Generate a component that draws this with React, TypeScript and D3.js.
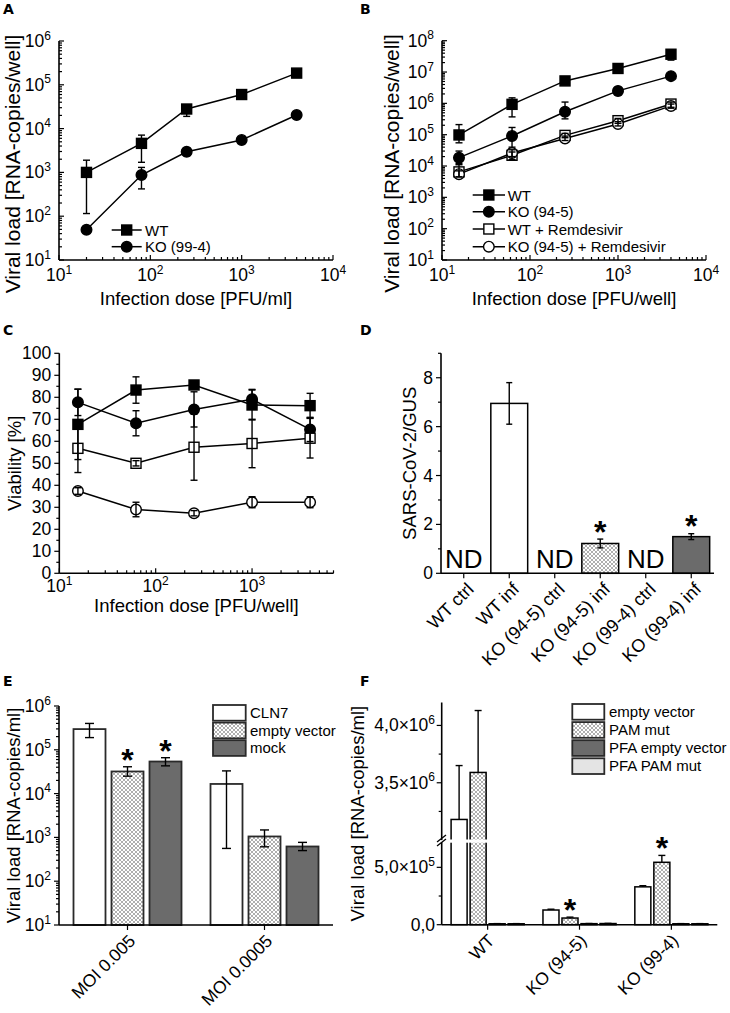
import * as d3 from "d3";

const FONT = "'Liberation Sans', Arial, Helvetica, sans-serif";
const TICK_FS = 17.5;
const SUP_FS = 12;
const TITLE_FS = 18.5;
const LEG_FS = 15;

// panel A – viral load vs infection dose (PFU/ml)
const doseA = [20, 80, 250, 1000, 4000];
const wtA = [1000, 4600, 28000, 60000, 185000];
const wtALo = [115, 1700, 19000, 52000, 165000];
const wtAHi = [1900, 7100, 34000, 66000, 205000];
const koA = [49, 870, 2960, 5500, 20400];
const koALo = [45, 420, 2400, 4800, 18500];
const koAHi = [54, 1300, 3600, 6200, 22500];

// panel B – viral load vs infection dose (PFU/well)
const doseB = [15.6, 62.5, 250, 1000, 4000];
const wtB = [98000, 930000, 5.2e6, 1.3e7, 3.7e7];
const wtBLo = [55000, 370000, 4.4e6, 1.1e7, 2.4e7];
const wtBHi = [210000, 1.5e6, 6.0e6, 1.5e7, 5.0e7];
const koB = [18500, 91000, 540000, 2.5e6, 7.4e6];
const koBLo = [12000, 40000, 320000, 1.8e6, 6.4e6];
const koBHi = [30000, 170000, 1.1e6, 3.3e6, 8.6e6];
const wtRemB = [6500, 22000, 95000, 280000, 950000];
const wtRemBLo = [4500, 16000, 80000, 230000, 750000];
const wtRemBHi = [11000, 28000, 110000, 330000, 1.1e6];
const koRemB = [5500, 26000, 76000, 220000, 830000];
const koRemBLo = [4500, 20000, 65000, 190000, 700000];
const koRemBHi = [7000, 33000, 90000, 260000, 950000];

// panel C – viability (%)
const doseC = [15.6, 62.5, 250, 1000, 4000];
const wtC = [67.7, 83.3, 85.6, 76.5, 76.2];
const wtCErr = [16, 6, 1.5, 6.8, 5.6];
const koC = [77.7, 68.2, 74.5, 79.1, 65.4];
const koCErr = [6, 5.7, 8, 4.5, 5.5];
const wtRemC = [56.8, 50, 57.3, 59, 61.4];
const wtRemCErr = [11, 1.2, 15, 11, 9];
const koRemC = [37.4, 29, 27.3, 32.3, 32.3];
const koRemCErr = [1.5, 3.3, 1.2, 2.5, 2.5];

// panel D – SARS-CoV-2/GUS
const dCats = ["WT ctrl", "WT inf", "KO (94-5) ctrl", "KO (94-5) inf", "KO (99-4) ctrl", "KO (99-4) inf"];
const dVals = [null, 6.95, null, 1.22, null, 1.5];
const dErr = [0, 0.85, 0, 0.18, 0, 0.12];
const dStar = [false, false, false, true, false, true];

// panel E – CLN7 rescue
const eGroups = ["MOI 0.005", "MOI 0.0005"];
const eSeries = ["CLN7", "empty vector", "mock"];
const eCLN7 = [297000, 16600];
const eCLN7Lo = [190000, 560];
const eCLN7Hi = [400000, 33000];
const eEmpty = [32000, 1050];
const eEmptyLo = [25000, 610];
const eEmptyHi = [41000, 1480];
const eMock = [54000, 620];
const eMockLo = [43000, 500];
const eMockHi = [66000, 770];
const eStarEmpty = [true, false];
const eStarMock = [true, false];

// panel F – PAM mutant
const fGroups = ["WT", "KO (94-5)", "KO (99-4)"];
const fSeries = ["empty vector", "PAM mut", "PFA empty vector", "PFA PAM mut"];
const fEmpty = [3.18e6, 128000, 330000];
const fEmptyErr = [470000, 7000, 10000];
const fPam = [3.59e6, 58000, 544000];
const fPamErr = [540000, 8000, 60000];
const fPfaEmpty = [8000, 9000, 8000];
const fPfaEmptyErr = [1500, 1500, 1500];
const fPfaPam = [8000, 10000, 8000];
const fPfaPamErr = [1500, 1500, 1500];
const fStarPam = [false, true, true];
const fMajorTicks = [0, 5e5, 3.5e6, 4e6];
const fMinorTicks = [2.5e5, 3.25e6, 3.75e6];

const FILL: Record<string, string> = {
  white: "#fff",
  hatch: "url(#hatch)",
  dark: "#6b6b6b",
  light: "#e4e4e4",
};
const D_FILL = ["none", "white", "none", "hatch", "none", "dark"];
const E_FILL = ["white", "hatch", "dark"];
const F_FILL = ["white", "hatch", "dark", "light"];

type Series = { name: string; shape: "square" | "circle"; filled: boolean; v: number[]; lo: number[]; hi: number[] };

const isDecade = (v: number) => Math.abs(Math.log10(v) - Math.round(Math.log10(v))) < 1e-6;

function Pow({ x, y, exp, anchor = "middle" }: any) {
  return (
    <text x={x} y={y} textAnchor={anchor} fontSize={TICK_FS}>
      10<tspan dy={-7.5} fontSize={SUP_FS}>{exp}</tspan>
    </text>
  );
}

function Marker({ shape, filled, x, y }: any) {
  const fill = filled ? "#000" : "#fff";
  if (shape === "square")
    return <rect x={x - 5} y={y - 5} width={10} height={10} fill={fill} stroke="#000" strokeWidth={1.4} />;
  return <circle cx={x} cy={y} r={5.3} fill={fill} stroke="#000" strokeWidth={1.4} />;
}

function ErrBar({ x, y1, y2, w = 7 }: any) {
  return (
    <g stroke="#000" strokeWidth={1.4}>
      <line x1={x} x2={x} y1={y1} y2={y2} />
      <line x1={x - w / 2} x2={x + w / 2} y1={y1} y2={y1} />
      <line x1={x - w / 2} x2={x + w / 2} y1={y2} y2={y2} />
    </g>
  );
}

function Star({ x, y }: any) {
  // y = visual centre of the asterisk
  return (
    <text x={x} y={y + 18} textAnchor="middle" fontSize={32} fontWeight="bold">
      *
    </text>
  );
}

function YTitle({ x, y, size = TITLE_FS, children }: any) {
  return (
    <text transform={`translate(${x},${y}) rotate(-90)`} textAnchor="middle" fontSize={size}>
      {children}
    </text>
  );
}

function LinePanel(p: any) {
  const { xs, x, y, series } = p;
  const [xa, xb] = x.range();
  const [ya, yb] = y.range();
  const xt: number[] = x.ticks();
  const yt: number[] = p.yLog ? y.ticks() : y.ticks(20);
  const yMajor = (v: number) => (p.yLog ? isDecade(v) : v % 10 === 0);
  const ySign = p.yTickOut ? -1 : 1;
  const line = d3
    .line<number>()
    .x((_, i) => x(xs[i]))
    .y((d) => y(d));
  return (
    <g>
      {xt.map((v) => (
        <line key={"xt" + v} x1={x(v)} x2={x(v)} y1={ya} y2={ya - (isDecade(v) ? 5 : 3)} stroke="#000" strokeWidth={1.2} />
      ))}
      {xt.filter(isDecade).map((v) => (
        <Pow key={"xl" + v} x={x(v)} y={ya + p.xTickDy} exp={Math.round(Math.log10(v))} />
      ))}
      {yt.map((v) => (
        <line key={"yt" + v} x1={xa} x2={xa + ySign * (yMajor(v) ? 5 : 3)} y1={y(v)} y2={y(v)} stroke="#000" strokeWidth={1.2} />
      ))}
      {yt.filter(yMajor).map((v) =>
        p.yLog ? (
          <Pow key={"yl" + v} x={xa - 8} y={y(v) + 6} anchor="end" exp={Math.round(Math.log10(v))} />
        ) : (
          <text key={"yl" + v} x={xa - 8} y={y(v) + 6} textAnchor="end" fontSize={TICK_FS}>
            {v}
          </text>
        )
      )}
      <line x1={xa} x2={xb} y1={ya} y2={ya} stroke="#000" strokeWidth={1.6} />
      <line x1={xa} x2={xa} y1={ya} y2={yb} stroke="#000" strokeWidth={1.6} />
      {series.map((s: Series) => (
        <path key={"l" + s.name} d={line(s.v) || ""} fill="none" stroke="#000" strokeWidth={1.5} />
      ))}
      {series.map((s: Series) =>
        s.v.map((v, i) => <Marker key={"m" + s.name + i} shape={s.shape} filled={s.filled} x={x(xs[i])} y={y(v)} />)
      )}
      {series.map((s: Series) =>
        s.v.map((v, i) => <ErrBar key={"e" + s.name + i} x={x(xs[i])} y1={y(s.hi[i])} y2={y(s.lo[i])} />)
      )}
      {p.legend &&
        series.map((s: Series, i: number) => {
          const ly = p.legend.rows[i];
          return (
            <g key={"lg" + s.name}>
              <line x1={p.legend.x1} x2={p.legend.x2} y1={ly} y2={ly} stroke="#000" strokeWidth={1.5} />
              <Marker shape={s.shape} filled={s.filled} x={(p.legend.x1 + p.legend.x2) / 2} y={ly} />
              <text x={p.legend.tx} y={ly + 5.5} fontSize={LEG_FS}>
                {s.name}
              </text>
            </g>
          );
        })}
      <text x={(xa + xb) / 2} y={p.xTitleY} textAnchor="middle" fontSize={TITLE_FS}>
        {p.xTitle}
      </text>
      <YTitle x={p.yTitleX} y={p.yTitleY ?? (ya + yb) / 2} size={p.yTitleSize}>
        {p.yTitle}
      </YTitle>
    </g>
  );
}

function PanelA() {
  const x = d3.scaleLog().domain([10, 1e4]).range([59, 333]);
  const y = d3.scaleLog().domain([10, 1e6]).range([260, 41]);
  const series: Series[] = [
    { name: "WT", shape: "square", filled: true, v: wtA, lo: wtALo, hi: wtAHi },
    { name: "KO (99-4)", shape: "circle", filled: true, v: koA, lo: koALo, hi: koAHi },
  ];
  return (
    <LinePanel xs={doseA} x={x} y={y} series={series} yLog xTickDy={21} xTitle="Infection dose [PFU/ml]" xTitleY={305}
      yTitle="Viral load [RNA-copies/well]" yTitleX={19.5} yTitleY={164} yTitleSize={21}
      legend={{ x1: 111.7, x2: 141.7, tx: 145, rows: [230, 246.7] }} />
  );
}

function PanelB() {
  const x = d3.scaleLog().domain([10, 1e4]).range([442, 706]);
  const y = d3.scaleLog().domain([10, 1e8]).range([260, 40.7]);
  const series: Series[] = [
    { name: "WT", shape: "square", filled: true, v: wtB, lo: wtBLo, hi: wtBHi },
    { name: "KO (94-5)", shape: "circle", filled: true, v: koB, lo: koBLo, hi: koBHi },
    { name: "WT + Remdesivir", shape: "square", filled: false, v: wtRemB, lo: wtRemBLo, hi: wtRemBHi },
    { name: "KO (94-5) + Remdesivir", shape: "circle", filled: false, v: koRemB, lo: koRemBLo, hi: koRemBHi },
  ];
  return (
    <LinePanel xs={doseB} x={x} y={y} series={series} yLog xTickDy={21} xTitle="Infection dose [PFU/well]" xTitleY={305}
      yTitle="Viral load [RNA-copies/well]" yTitleX={399} yTitleY={163.5} yTitleSize={21}
      legend={{ x1: 472.7, x2: 505, tx: 507.7, rows: [195, 211.7, 229, 246.7] }} />
  );
}

function PanelC() {
  const x = d3.scaleLog().domain([10, 7000]).range([59.3, 333.5]);
  const y = d3.scaleLinear().domain([0, 100]).range([573.3, 353.3]);
  const pm = (v: number[], e: number[], s: number) => v.map((d, i) => d + s * e[i]);
  const series: Series[] = [
    { name: "WT", shape: "square", filled: true, v: wtC, lo: pm(wtC, wtCErr, -1), hi: pm(wtC, wtCErr, 1) },
    { name: "KO", shape: "circle", filled: true, v: koC, lo: pm(koC, koCErr, -1), hi: pm(koC, koCErr, 1) },
    { name: "WTR", shape: "square", filled: false, v: wtRemC, lo: pm(wtRemC, wtRemCErr, -1), hi: pm(wtRemC, wtRemCErr, 1) },
    { name: "KOR", shape: "circle", filled: false, v: koRemC, lo: pm(koRemC, koRemCErr, -1), hi: pm(koRemC, koRemCErr, 1) },
  ];
  return (
    <LinePanel xs={doseC} x={x} y={y} series={series} yTickOut xTickDy={19} xTitle="Infection dose [PFU/well]"
      xTitleY={612} yTitle="Viability [%]" yTitleX={21} />
  );
}

function PanelD() {
  const x = d3.scaleBand<string>().domain(dCats).range([441, 714]).paddingInner(0.19).paddingOuter(0.095);
  const y = d3.scaleLinear().domain([0, 9]).range([573.3, 353.3]);
  const base = y(0);
  const yt = y.ticks(10);
  return (
    <g>
      {dCats.map((c, i) => {
        const v = dVals[i];
        const bx = x(c)!;
        const cx = bx + x.bandwidth() / 2;
        if (v === null)
          return (
            <text key={c} x={cx} y={base - 5} textAnchor="middle" fontSize={26}>
              ND
            </text>
          );
        return (
          <g key={c}>
            <rect x={bx} y={y(v)} width={x.bandwidth()} height={base - y(v)} fill={FILL[D_FILL[i]]} stroke="#000" strokeWidth={1.5} />
            <ErrBar x={cx} y1={y(v + dErr[i])} y2={y(v - dErr[i])} w={6} />
            {dStar[i] && <Star x={cx} y={y(v + dErr[i]) - 14.5} />}
          </g>
        );
      })}
      {dCats.map((c) => {
        const cx = x(c)! + x.bandwidth() / 2;
        return (
          <g key={"t" + c}>
            <line x1={cx} x2={cx} y1={base} y2={base + 5} stroke="#000" strokeWidth={1.2} />
            <text transform={`translate(${cx + 11},${base + 17}) rotate(-45)`} textAnchor="end" fontSize={18}>
              {c}
            </text>
          </g>
        );
      })}
      {yt.map((v) => (
        <line key={"y" + v} x1={441} x2={441 - (v % 2 === 0 ? 5 : 3)} y1={y(v)} y2={y(v)} stroke="#000" strokeWidth={1.2} />
      ))}
      {yt.filter((v) => v % 2 === 0).map((v) => (
        <text key={"yl" + v} x={433} y={y(v) + 6} textAnchor="end" fontSize={TICK_FS}>
          {v}
        </text>
      ))}
      <line x1={441} x2={714} y1={base} y2={base} stroke="#000" strokeWidth={1.6} />
      <line x1={441} x2={441} y1={base} y2={353.3} stroke="#000" strokeWidth={1.6} />
      <YTitle x={416} y={463.3}>SARS-CoV-2/GUS</YTitle>
    </g>
  );
}

function PanelE() {
  const x0 = d3.scaleBand<string>().domain(eGroups).range([59, 333]);
  const x1 = d3.scaleBand<string>().domain(eSeries).range([14.5, x0.bandwidth() - 14.5]).paddingInner(0.158);
  const y = d3.scaleLog().domain([10, 1e6]).range([925, 706]);
  const vals = [eCLN7, eEmpty, eMock];
  const los = [eCLN7Lo, eEmptyLo, eMockLo];
  const his = [eCLN7Hi, eEmptyHi, eMockHi];
  const stars = [eGroups.map(() => false), eStarEmpty, eStarMock];
  const yt = y.ticks();
  const base = y(10);
  return (
    <g>
      {eGroups.map((g, gi) =>
        eSeries.map((s, si) => {
          const bx = x0(g)! + x1(s)!;
          const cx = bx + x1.bandwidth() / 2;
          const v = vals[si][gi];
          return (
            <g key={g + s}>
              <rect x={bx} y={y(v)} width={x1.bandwidth()} height={base - y(v)} fill={FILL[E_FILL[si]]} stroke="#2a2a2a" strokeWidth={1.8} />
              <ErrBar x={cx} y1={y(his[si][gi])} y2={y(los[si][gi])} w={9} />
              {stars[si][gi] && <Star x={cx} y={y(his[si][gi]) - 14} />}
            </g>
          );
        })
      )}
      {eGroups.map((g) => {
        const cx = x0(g)! + x0.bandwidth() / 2;
        return (
          <g key={"t" + g}>
            <line x1={cx} x2={cx} y1={base} y2={base + 5} stroke="#000" strokeWidth={1.2} />
            <text transform={`translate(${cx + 9},${base + 17}) rotate(-45)`} textAnchor="end" fontSize={TICK_FS}>
              {g}
            </text>
          </g>
        );
      })}
      {yt.map((v) => (
        <line key={"y" + v} x1={59} x2={59 - (isDecade(v) ? 5 : 3)} y1={y(v)} y2={y(v)} stroke="#000" strokeWidth={1.2} />
      ))}
      {yt.filter(isDecade).map((v) => (
        <Pow key={"yl" + v} x={51} y={y(v) + 6} anchor="end" exp={Math.round(Math.log10(v))} />
      ))}
      <line x1={59} x2={333} y1={base} y2={base} stroke="#000" strokeWidth={1.6} />
      <line x1={59} x2={59} y1={base} y2={706} stroke="#000" strokeWidth={1.6} />
      {eSeries.map((s, i) => (
        <g key={"lg" + s}>
          <rect x={213} y={705 + i * 17.6} width={32.7} height={15.7} fill={FILL[E_FILL[i]]} stroke="#2a2a2a" strokeWidth={1.8} />
          <text x={250} y={705 + i * 17.6 + 13} fontSize={LEG_FS}>
            {s}
          </text>
        </g>
      ))}
      <YTitle x={20} y={815.5}>Viral load [RNA-copies/ml]</YTitle>
    </g>
  );
}

function fmtF(v: number) {
  if (v === 0) return <>0,0</>;
  const e = Math.floor(Math.log10(v));
  const m = (v / 10 ** e).toFixed(1).replace(".", ",");
  return (
    <>
      {m}×10<tspan dy={-7.5} fontSize={SUP_FS}>{e}</tspan>
    </>
  );
}

function PanelF() {
  const x0 = d3.scaleBand<string>().domain(fGroups).range([441.7, 717.3]);
  const x1 = d3.scaleBand<string>().domain(fSeries).range([9.4, x0.bandwidth() - 9.4]).paddingInner(0.158);
  const y = d3.scaleLinear().domain([0, 7.2e5, 3.0e6, 4.2e6]).range([924.7, 842.1, 840.1, 702.5]);
  const vals = [fEmpty, fPam, fPfaEmpty, fPfaPam];
  const errs = [fEmptyErr, fPamErr, fPfaEmptyErr, fPfaPamErr];
  const stars = [fGroups.map(() => false), fStarPam, fGroups.map(() => false), fGroups.map(() => false)];
  const base = y(0);
  const wtRight = x0(fGroups[0])! + x1(fSeries[1])! + x1.bandwidth();
  return (
    <g>
      {fGroups.map((g, gi) =>
        fSeries.map((s, si) => {
          const bx = x0(g)! + x1(s)!;
          const cx = bx + x1.bandwidth() / 2;
          const v = vals[si][gi];
          const top = y(v + errs[si][gi]);
          return (
            <g key={g + s}>
              <rect x={bx} y={y(v)} width={x1.bandwidth()} height={base - y(v)} fill={FILL[F_FILL[si]]} stroke="#000" strokeWidth={1.5} />
              <line x1={cx} x2={cx} y1={y(v)} y2={top} stroke="#000" strokeWidth={1.4} />
              <line x1={cx - 3.5} x2={cx + 3.5} y1={top} y2={top} stroke="#000" strokeWidth={1.4} />
              {stars[si][gi] && <Star x={cx} y={top - 14} />}
            </g>
          );
        })
      )}
      <rect x={437} y={y(7.2e5) - 2.6} width={wtRight - 437 + 2} height={3.2} fill="#fff" />
      <line x1={437} x2={446} y1={y(7.2e5) + 4} y2={y(7.2e5) - 3} stroke="#000" strokeWidth={1.3} />
      <line x1={437} x2={446} y1={y(7.2e5) + 0} y2={y(7.2e5) - 7} stroke="#000" strokeWidth={1.3} />
      {fGroups.map((g) => {
        const cx = x0(g)! + x0.bandwidth() / 2;
        return (
          <g key={"t" + g}>
            <line x1={cx} x2={cx} y1={base} y2={base + 5} stroke="#000" strokeWidth={1.2} />
            <text transform={`translate(${cx + 8},${base + 17}) rotate(-45)`} textAnchor="end" fontSize={TICK_FS}>
              {g}
            </text>
          </g>
        );
      })}
      {fMajorTicks.map((v) => (
        <g key={"ym" + v}>
          <line x1={441.7} x2={436.7} y1={y(v)} y2={y(v)} stroke="#000" strokeWidth={1.2} />
          <text x={435} y={y(v) + 6} textAnchor="end" fontSize={TICK_FS}>
            {fmtF(v)}
          </text>
        </g>
      ))}
      {fMinorTicks.map((v) => (
        <line key={"yn" + v} x1={441.7} x2={438.7} y1={y(v)} y2={y(v)} stroke="#000" strokeWidth={1.2} />
      ))}
      <line x1={441.7} x2={717.3} y1={base} y2={base} stroke="#000" strokeWidth={1.6} />
      <line x1={441.7} x2={441.7} y1={base} y2={y(7.2e5)} stroke="#000" strokeWidth={1.6} />
      <line x1={441.7} x2={441.7} y1={y(3.0e6)} y2={702.5} stroke="#000" strokeWidth={1.6} />
      {fSeries.map((s, i) => (
        <g key={"lg" + s}>
          <rect x={572.3} y={704 + i * 18.1} width={32} height={15.7} fill={FILL[F_FILL[i]]} stroke="#2a2a2a" strokeWidth={1.8} />
          <text x={609} y={704 + i * 18.1 + 13} fontSize={LEG_FS}>
            {s}
          </text>
        </g>
      ))}
      <YTitle x={363.5} y={813.6}>Viral load [RNA-copies/ml]</YTitle>
    </g>
  );
}

const LETTERS = [
  { t: "A", x: 3, y: 14 },
  { t: "B", x: 360, y: 14 },
  { t: "C", x: 3, y: 335 },
  { t: "D", x: 360, y: 335 },
  { t: "E", x: 3, y: 686 },
  { t: "F", x: 360, y: 686 },
];

export default function App() {
  return (
    <div style={{ position: "absolute", left: 0, top: 0, width: 730, height: 1013, background: "#fff" }}>
      <svg width={730} height={1013} viewBox="0 0 730 1013" style={{ display: "block" }} fontFamily={FONT}>
        <defs>
          <pattern id="hatch" width={4} height={4} patternUnits="userSpaceOnUse">
            <rect width={4} height={4} fill="#fff" />
            <path d="M0,0L4,4M4,0L0,4" stroke="#8c8c8c" strokeWidth={0.7} />
          </pattern>
        </defs>
        <rect width={730} height={1013} fill="#fff" />
        {LETTERS.map((l) => (
          <text key={l.t} x={l.x} y={l.y} fontSize={14} fontWeight="bold" fontFamily="'DejaVu Sans', sans-serif">
            {l.t}
          </text>
        ))}
        <PanelA />
        <PanelB />
        <PanelC />
        <PanelD />
        <PanelE />
        <PanelF />
      </svg>
    </div>
  );
}
